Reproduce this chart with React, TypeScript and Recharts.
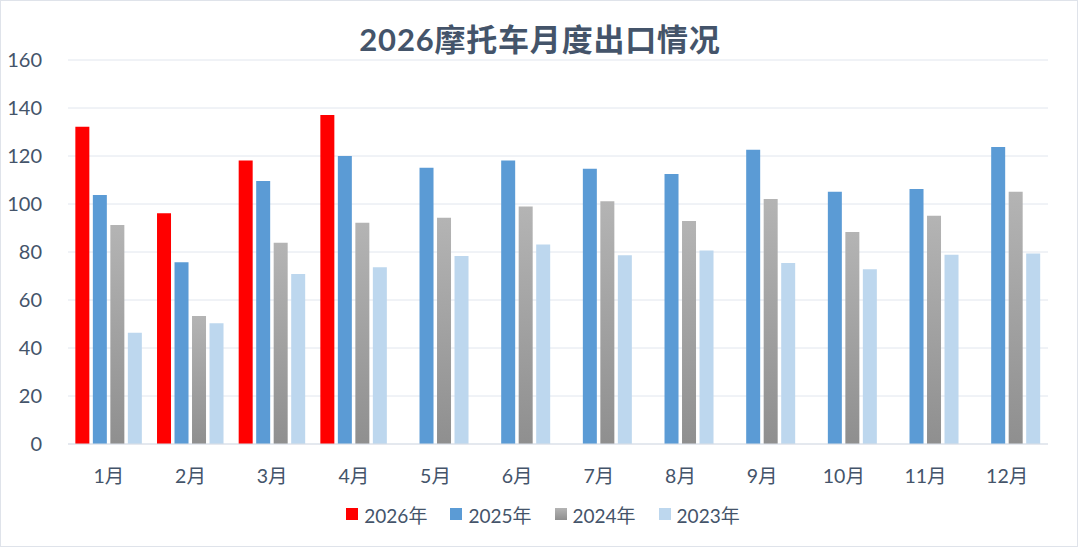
import React from 'react'
import { BarChart, Bar, XAxis, YAxis, CartesianGrid, Legend } from 'recharts'

const months = ['1月', '2月', '3月', '4月', '5月', '6月', '7月', '8月', '9月', '10月', '11月', '12月']
const y2026 = [132.2, 96.1, 118.1, 137.1, null, null, null, null, null, null, null, null]
const y2025 = [103.8, 75.7, 109.6, 120, 115.1, 118.1, 114.7, 112.5, 122.6, 105.1, 106.3, 123.8]
const y2024 = [91.3, 53.3, 83.9, 92.2, 94.3, 99.0, 101.1, 92.9, 102.1, 88.3, 95.1, 105.1]
const y2023 = [46.4, 50.3, 70.8, 73.6, 78.3, 83.1, 78.6, 80.6, 75.4, 72.8, 78.9, 79.4]
const yTicks = [0, 20, 40, 60, 80, 100, 120, 140, 160]

const data = months.map((m, i) => ({
  month: m,
  y2026: y2026[i],
  y2025: y2025[i],
  y2024: y2024[i],
  y2023: y2023[i],
}))

const textColor = '#44546a'
const font = 'Lato, "Noto Sans CJK SC", sans-serif'

const legendItems = [
  { label: '2026年', bg: '#ff0000' },
  { label: '2025年', bg: '#5b9bd5' },
  { label: '2024年', bg: 'linear-gradient(#b4b4b4, #8f8f8f)' },
  { label: '2023年', bg: '#bdd7ee' },
]

function LegendContent() {
  return (
    <div
      style={{
        height: 40, width: 1080, paddingLeft: 6, boxSizing: 'border-box',
        display: 'flex', justifyContent: 'center', alignItems: 'center', fontFamily: font,
      }}
    >
      {legendItems.map((it) => (
        <div key={it.label} style={{ display: 'flex', alignItems: 'center', margin: '0 11.5px' }}>
          <span style={{ width: 12, height: 12, background: it.bg, marginRight: 6, display: 'inline-block' }} />
          <span style={{ fontSize: 19, color: textColor }}>{it.label}</span>
        </div>
      ))}
    </div>
  )
}

export default function App() {
  return (
    <div style={{ position: 'absolute', left: 0, top: 0, width: 1080, height: 547, background: '#fff' }}>
      <div
        style={{
          position: 'absolute', left: 0, top: 0, width: 1076, height: 545,
          border: '1px solid #dfe3ea', pointerEvents: 'none',
        }}
      />
      <div
        style={{
          position: 'absolute', top: 15, left: 0, width: 1080, textAlign: 'center',
          fontFamily: font, fontWeight: 700, fontSize: 31, letterSpacing: 0.8, color: textColor,
        }}
      >
        2026摩托车月度出口情况
      </div>
      <BarChart
        width={1080}
        height={547}
        data={data}
        margin={{ top: 60, right: 32, left: 0, bottom: 13 }}
        barCategoryGap="9%"
        barGap={3.5}
        style={{ fontFamily: font }}
      >
        <defs>
          <linearGradient id="grayGrad" x1="0" y1="0" x2="0" y2="1">
            <stop offset="0%" stopColor="#b4b4b4" />
            <stop offset="100%" stopColor="#8f8f8f" />
          </linearGradient>
        </defs>
        <CartesianGrid vertical={false} stroke="#e1e6ee" />
        <XAxis
          dataKey="month"
          height={50}
          tickLine={false}
          tickSize={0}
          tickMargin={25}
          axisLine={{ stroke: '#d9dee6' }}
          tick={{ fill: textColor, fontSize: 19.5 }}
          interval={0}
        />
        <YAxis
          width={68}
          domain={[0, 160]}
          ticks={yTicks}
          tickLine={false}
          tickSize={0}
          tickMargin={26}
          axisLine={false}
          tick={{ fill: textColor, fontSize: 20 }}
        />
        <Legend
          verticalAlign="bottom"
          height={40}
          wrapperStyle={{ left: 0, width: 1080 }}
          content={<LegendContent />}
        />
        <Bar dataKey="y2026" name="2026年" fill="#ff0000" isAnimationActive={false} />
        <Bar dataKey="y2025" name="2025年" fill="#5b9bd5" isAnimationActive={false} />
        <Bar dataKey="y2024" name="2024年" fill="url(#grayGrad)" isAnimationActive={false} />
        <Bar dataKey="y2023" name="2023年" fill="#bdd7ee" isAnimationActive={false} />
      </BarChart>
    </div>
  )
}
